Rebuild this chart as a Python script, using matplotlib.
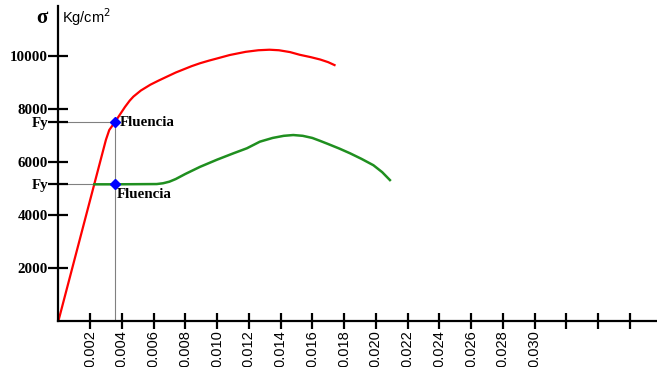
import matplotlib.pyplot as plt

# stress-strain readings (strain, kg/cm2)
red_strain = [0.0, 0.0030, 0.00321, 0.00357, 0.0042, 0.0045, 0.00473, 0.0052, 0.0058,
              0.0063, 0.00683, 0.0074, 0.0079, 0.0084, 0.00893, 0.0095, 0.0100, 0.0108,
              0.0118, 0.0126, 0.0133, 0.0139, 0.0146, 0.0152, 0.0159, 0.0165, 0.0170, 0.0174]
red_stress = [0, 6850, 7220, 7520, 8090, 8330, 8480, 8710, 8930,
              9080, 9230, 9390, 9510, 9630, 9740, 9840, 9920, 10050,
              10170, 10230, 10250, 10230, 10160, 10060, 9970, 9880, 9780, 9670]

green_strain = [0.00227, 0.00357, 0.0062, 0.0066, 0.0070, 0.0074, 0.0080, 0.00893, 0.0100,
                0.01103, 0.01188, 0.0127, 0.0135, 0.0142, 0.0148, 0.0154, 0.0160, 0.01649,
                0.0170, 0.0177, 0.01838, 0.0191, 0.01985, 0.0204, 0.02089]
green_stress = [5170, 5170, 5180, 5210, 5270, 5370, 5560, 5830, 6100,
                6340, 6530, 6780, 6920, 7000, 7030, 7000, 6920, 6810,
                6690, 6520, 6340, 6130, 5890, 5630, 5330]

fy_high = 7520
fy_low = 5170
fy_strain = 0.00357

y_ticks = [2000, 4000, 6000, 8000, 10000]
x_ticks = [0.002 * i for i in range(1, 19)]
x_labels = ["%.3f" % v if v < 0.031 else "" for v in x_ticks]

fig = plt.figure(figsize=(6.57, 3.67), dpi=100)
ax = fig.add_axes([58.3 / 657, (367 - 321.3) / 367, (657 - 58.3) / 657, (321.3 - 6) / 367])
ax.set_xlim(0, (657 - 58.3) / 15875)
ax.set_ylim(0, 11900)

for s in ["top", "right"]:
    ax.spines[s].set_visible(False)
for s in ["left", "bottom"]:
    ax.spines[s].set_linewidth(1.6)

# yield guide lines
ax.plot([0, fy_strain], [fy_high, fy_high], color="#808080", lw=0.8, zorder=1)
ax.plot([0, fy_strain], [fy_low, fy_low], color="#808080", lw=0.8, zorder=1)
ax.plot([fy_strain, fy_strain], [0, fy_high], color="#808080", lw=0.8, zorder=1)

ax.plot(red_strain, red_stress, color="#ff0000", lw=1.6, zorder=2,
        solid_joinstyle="round")
ax.plot(green_strain, green_stress, color="#1f8f1f", lw=1.8, zorder=2,
        solid_joinstyle="round")

ax.plot([fy_strain, fy_strain], [fy_high, fy_low], "D", color="#0000ff", ms=5.5,
        zorder=3, clip_on=False)

bold_serif = dict(family="Liberation Serif", fontweight="bold", fontsize=10.8)
ax.text(fy_strain + 0.00033, fy_high, "Fluencia", va="center", ha="left", **bold_serif)
ax.text(fy_strain + 0.00013, fy_low - 380, "Fluencia", va="center", ha="left", **bold_serif)

ax.set_yticks(y_ticks + [fy_high, fy_low])
ax.set_yticklabels([str(v) for v in y_ticks] + ["Fy", "Fy"], **bold_serif)
ax.tick_params(axis="y", direction="inout", length=14.5, width=1.6, pad=0)

ax.set_xticks(x_ticks)
ax.set_xticklabels(x_labels, rotation=90, family="Liberation Sans", fontsize=10.5)
ax.tick_params(axis="x", direction="inout", length=11, width=1.6, pad=1)

fig.text(42 / 657, 1 - 18 / 367, "σ", family="Liberation Serif", fontweight="bold",
         fontsize=15, ha="center", va="center")
fig.text(62 / 657, 1 - 17 / 367, "Kg/cm$^{2}$", family="Liberation Sans", fontsize=10.5,
         ha="left", va="center")

fig.savefig("out.png", dpi=100)
